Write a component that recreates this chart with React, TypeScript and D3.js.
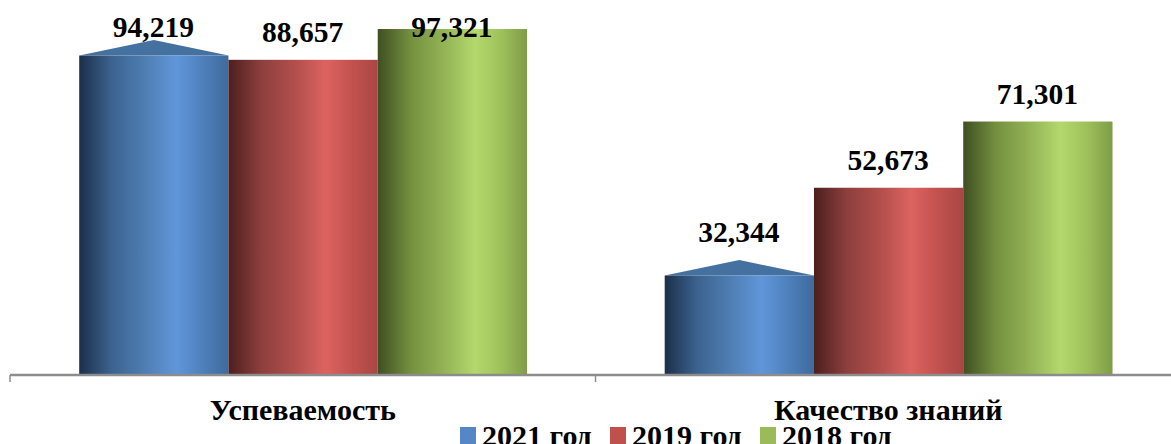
import React from "react";
import * as d3 from "d3";

const categories = ["Успеваемость", "Качество знаний"];
const seriesNames = ["2021 год", "2019 год", "2018 год"];
const values2021 = [94.219, 32.344];
const values2019 = [88.657, 52.673];
const values2018 = [97.321, 71.301];
const valueLabels = [["94,219", "32,344"], ["88,657", "52,673"], ["97,321", "71,301"]];
const legendColors = ["#5586c6", "#c0504d", "#9bbb59"];
const gradients = [
  ["#1c2f4a", "#3c6390", "#4f7fb5", "#6096da", "#4f81bd", "#3f6a9c"],
  ["#4c1f1e", "#8d3f3d", "#b34f4c", "#dc6360", "#c4524f", "#a84744"],
  ["#3f4f22", "#74903f", "#94b456", "#b4d86c", "#a0c25c", "#7f9c48"],
];
const gradientStops = [0, 0.22, 0.45, 0.65, 0.82, 1];
const series = [values2021, values2019, values2018];

const W = 1171, H = 444, AXIS_Y = 375;
const x0 = d3.scaleBand<number>().domain([0, 1]).range([10, 1181]);
const x1 = d3.scaleBand<number>().domain([0, 1, 2]).range([69.2, 517]);
const y = d3.scaleLinear().domain([0, 100]).range([AXIS_Y, 19.5]);
const font = "'Liberation Serif', serif";

export default function App() {
  const barW = x1.bandwidth();
  return (
    <svg width={W} height={H} style={{ position: "absolute", left: 0, top: 0, background: "#fff" }} fontFamily={font} fontWeight="bold">
      <defs>
        {gradients.map((g, i) => (
          <linearGradient key={i} id={`g${i}`} x1="0" x2="1" y1="0" y2="0">
            {g.map((c, k) => <stop key={k} offset={gradientStops[k]} stopColor={c} />)}
          </linearGradient>
        ))}
      </defs>
      {series.map((vals, s) => vals.map((v, c) => {
        const left = x0(c)! + x1(s)!;
        const top = y(v);
        if (s === 0) {
          const sh = top + 15.5;
          return (
            <g key={`${s}-${c}`}>
              <path d={`M${left},${sh}L${left + barW / 2},${top}L${left + barW},${sh}Z`} fill="#44719f" />
              <rect x={left} y={sh} width={barW} height={AXIS_Y - sh} fill={`url(#g${s})`} />
            </g>
          );
        }
        return <rect key={`${s}-${c}`} x={left} y={top} width={barW} height={AXIS_Y - top} fill={`url(#g${s})`} />;
      }))}
      <line x1={10} x2={W} y1={AXIS_Y} y2={AXIS_Y} stroke="#8c8c8c" strokeWidth={2.5} />
      {x0.domain().map(c => (
        <line key={c} x1={x0(c)!} x2={x0(c)!} y1={AXIS_Y} y2={382} stroke="#8c8c8c" strokeWidth={1.5} />
      ))}
      {series.map((vals, s) => vals.map((v, c) => (
        <text key={`${s}-${c}`} x={x0(c)! + x1(s)! + barW / 2 - 0.5} y={Math.max(y(v) - 18, 37)} textAnchor="middle" fontSize={29.5}>
          {valueLabels[s][c]}
        </text>
      )))}
      {categories.map((t, c) => (
        <text key={t} x={x0(c)! + x0.bandwidth() / 2} y={419.5} textAnchor="middle" fontSize={30}>{t}</text>
      ))}
      {seriesNames.map((t, i) => (
        <g key={t}>
          <rect x={460 + i * 150} y={427} width={16} height={17} fill={legendColors[i]} />
          <text x={482 + i * 150} y={445.5} fontSize={30}>{t}</text>
        </g>
      ))}
    </svg>
  );
}
